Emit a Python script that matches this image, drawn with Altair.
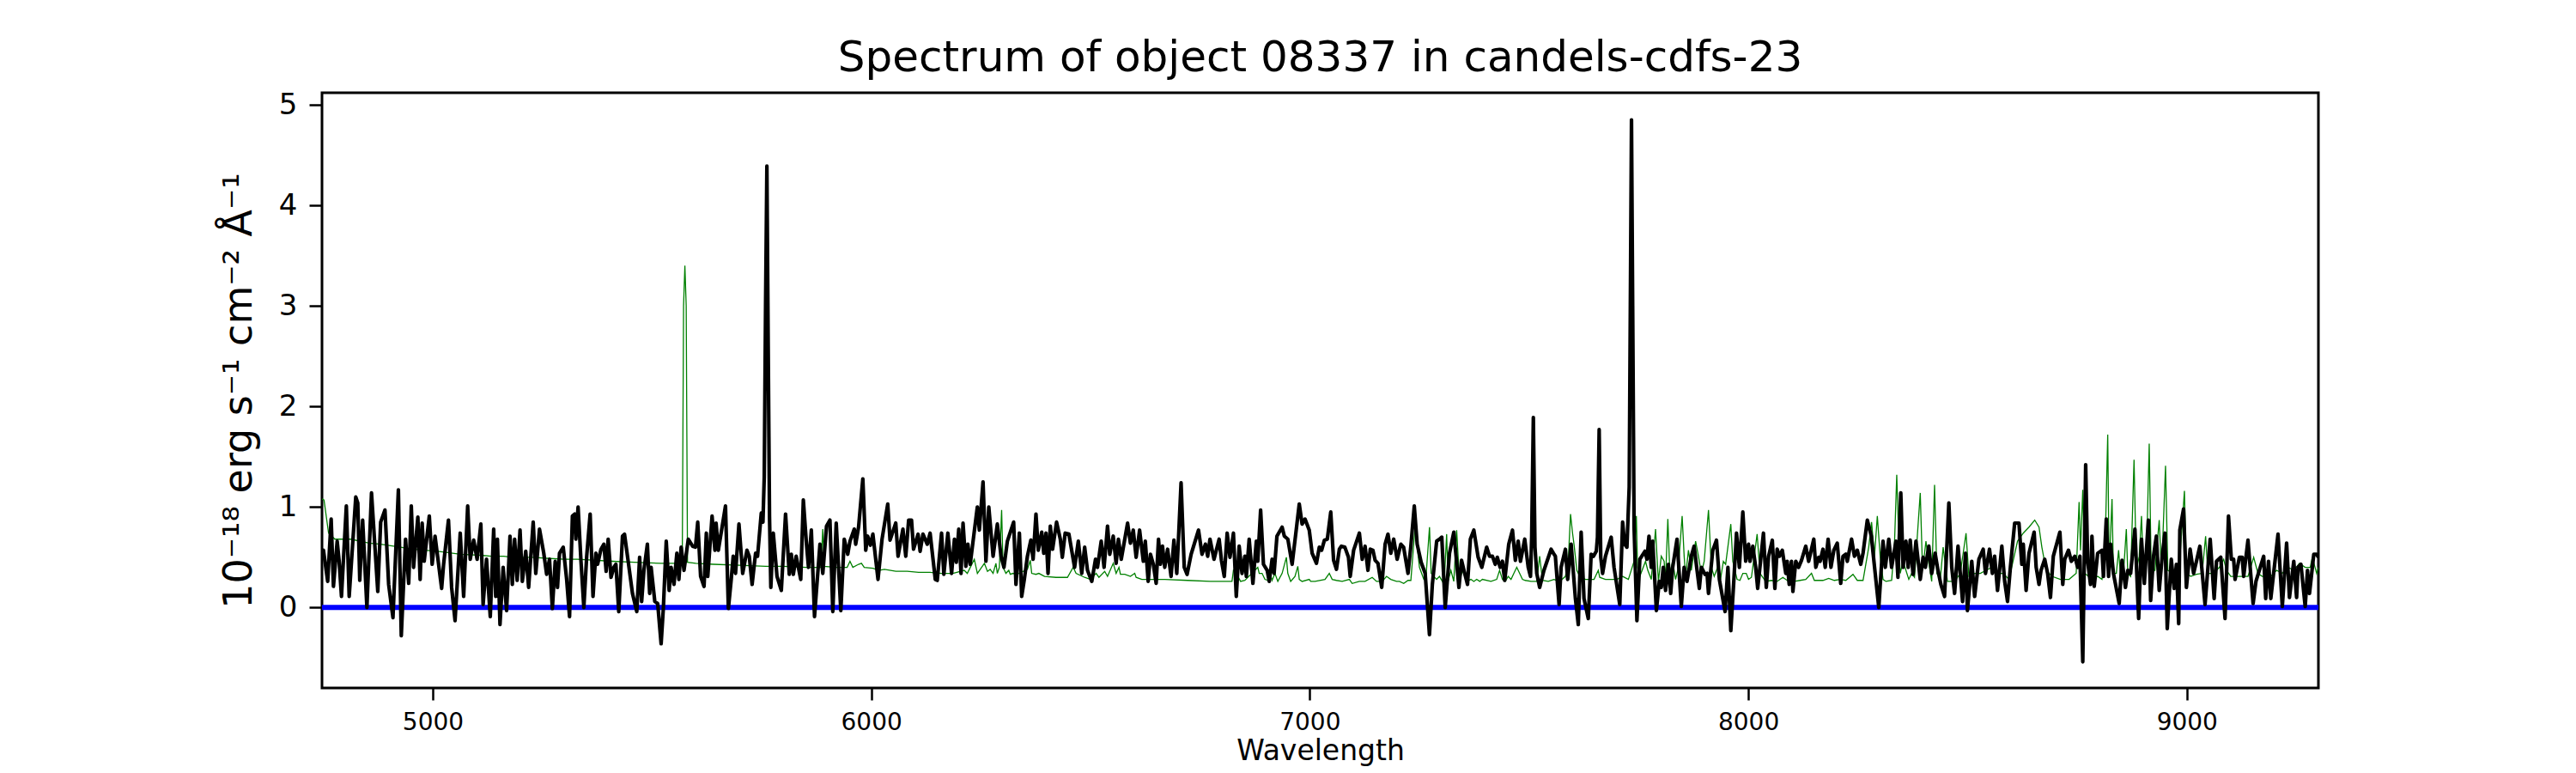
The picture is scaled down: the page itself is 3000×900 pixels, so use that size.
import altair as alt
import pandas as pd

# ---- black: observed spectrum (wavelength in Angstrom, flux in 1e-18 erg/s/cm2/A) ----
black_wave = [
    4748, 4750.8, 4760.5, 4768.4, 4773.6, 4782.1, 4786.6, 4791.9, 4803.0, 4809.5, 4824.5, 4829.1,
    4833.6, 4840.2, 4849.9, 4860.4, 4874.7, 4881.3, 4891.1, 4899.5, 4909.3, 4921.7, 4928.3, 4938.0,
    4945.2, 4951.1, 4956.3, 4966.1, 4971.3, 4975.9, 4980.5, 4992.2, 4998.7, 5005.3, 5020.3, 5024.8,
    5035.9, 5043.1, 5050.9, 5062.7, 5070.5, 5079.7, 5085.5, 5093.4, 5101.2, 5109.7, 5114.9, 5122.7,
    5131.2, 5139.0, 5143.6, 5147.5, 5153.4, 5160.6, 5168.4, 5176.2, 5181.5, 5186.7, 5192.6, 5199.1,
    5204.3, 5212.1, 5218.7, 5229.1, 5235.0, 5243.5,
    5253.2, 5259.8, 5266.3, 5272.8, 5279.3, 5284.6, 5289.1, 5297.6, 5305.4, 5312.0, 5318.5, 5323.7,
    5326.3, 5331.5, 5338.1, 5344.6, 5351.1, 5359.0, 5365.5, 5372.0, 5375.9, 5383.7, 5390.3, 5395.5,
    5400.1, 5406.6, 5413.1, 5417.7, 5424.2, 5432.7, 5437.3, 5445.7, 5455.5, 5465.3, 5471.8, 5476.4,
    5481.6, 5489.5, 5494.7, 5498.0, 5506.4, 5513.0, 5520.8, 5526.0, 5532.5, 5539.1, 5543.6, 5550.2,
    5556.7, 5561.3, 5566.5, 5573.0, 5582.8, 5592.6, 5599.1, 5604.3, 5610.9, 5618.7, 5623.9, 5627.2,
    5637.0, 5643.5, 5646.1, 5651.3, 5667.6, 5674.2, 5680.7, 5685.2, 5690.5, 5698.3, 5706.8, 5716.6,
    5721.8, 5728.3, 5736.2, 5740.7, 5749.2, 5753.0, 5756.0, 5759.0, 5762.0, 5765.0, 5768.0, 5771.0,
    5776.6, 5785.1, 5794.9, 5804.6, 5813.1, 5817.7, 5822.3, 5828.8, 5839.2, 5845.1, 5852.3, 5856.9,
    5863.4, 5870.6, 5883.0, 5889.5, 5898.0, 5905.8, 5912.3, 5920.1, 5930.6, 5938.4, 5946.3, 5951.5,
    5961.3, 5964.5, 5971.1, 5980.8, 5987.4, 5991.9, 5998.0, 6003.7, 6015.4, 6024.6, 6037.6, 6042.8,
    6055.9, 6061.1, 6072.2, 6078.7, 6085.3, 6091.8, 6096.4, 6106.8, 6111.4, 6117.9, 6127.7, 6134.2,
    6146.0, 6150.5, 6160.3, 6165.5, 6174.7, 6183.2, 6189.7, 6194.0, 6199.5, 6204.7, 6209.3, 6215.8,
    6220.3, 6225.6, 6241.9, 6246.5, 6254.9, 6261.5, 6268.0,
    6277.8, 6287.5, 6296.0, 6302.6, 6310.4, 6324.7, 6330.0, 6337.8, 6343.0, 6349.0, 6356.1, 6363.9,
    6369.1, 6375.6, 6380.9, 6388.7, 6393.3, 6398.5, 6403.1, 6408.3, 6413.5, 6422.6, 6431.1, 6435.7,
    6442.2, 6450.7, 6463.7, 6472.2, 6480.0, 6486.6, 6493.1, 6502.9, 6511.4, 6515.9, 6524.4, 6530.9,
    6538.8, 6543.9, 6551.8, 6558.4, 6563.6, 6570.1, 6584.5, 6591.0, 6597.5, 6604.0, 6611.9, 6620.4,
    6624.9, 6631.5, 6636.7, 6643.2, 6649.7, 6655.0, 6659.5, 6664.1, 6669.3, 6675.8, 6683.7, 6690.2,
    6696.7, 6700.0, 6706.5, 6713.7, 6720.2, 6729.4, 6746.3, 6754.2, 6762.0, 6767.2, 6772.4, 6781.6,
    6793.3, 6798.5, 6805.0, 6811.6, 6818.0, 6825.9, 6832.4, 6839.0, 6845.5, 6852.0, 6855.3, 6861.8,
    6870.3, 6878.1, 6881.4, 6887.9, 6894.4, 6902.9, 6907.5, 6914.0, 6918.6, 6925.1, 6936.9, 6942.0,
    6950.0, 6959.7, 6968.2, 6976.0, 6982.5, 6989.1, 6998.8, 7005.4, 7015.2, 7021.7, 7027.0, 7033.4,
    7040.0, 7047.8, 7054.3, 7060.8, 7067.4, 7072.0, 7080.0, 7088.2, 7092.2, 7100.0, 7113.1, 7119.6,
    7126.1, 7132.6, 7137.9, 7144.0, 7149.0, 7155.5, 7164.0, 7171.8, 7178.3, 7184.8, 7191.4, 7199.2,
    7207.7, 7214.0, 7224.0, 7230.5, 7238.3, 7244.9, 7254.0, 7263.1, 7272.9, 7279.5, 7289.3,
    7295.8, 7301.0, 7308.8, 7318.6, 7328.4, 7333.6, 7340.1, 7346.0, 7353.2, 7359.7, 7366.2, 7374.1,
    7383.9, 7392.3, 7403.4, 7409.9, 7416.5, 7423.0, 7427.6, 7434.0, 7439.3, 7444.5, 7453.7, 7462.2,
    7468.7, 7475.2, 7480.4, 7490.2, 7498.1, 7503.3, 7506.0, 7509.8, 7513.5, 7517.6, 7524.2, 7534.0,
    7550.3, 7555.5, 7560.0, 7568.5, 7573.1, 7582.9, 7588.1, 7596.0, 7605.7, 7612.3, 7618.8, 7625.3,
    7635.1, 7641.6, 7646.8, 7653.4, 7656.0, 7659.9, 7663.5, 7667.7, 7674.3, 7687.3, 7693.8, 7706.9,
    7713.4, 7718.0, 7723.2, 7728.4, 7731.7, 7733.6, 7736.3, 7739.5, 7746.0, 7752.6, 7764.3, 7768.9,
    7773.5, 7778.7, 7782.0, 7790.4,
    7796.9, 7801.5, 7806.1, 7811.3, 7817.8, 7823.0, 7827.6, 7837.4, 7847.2, 7853.7, 7860.2, 7870.0,
    7876.5, 7883.1, 7888.3, 7892.9, 7901.3, 7905.9, 7909.2, 7919.0, 7927.4, 7934.0, 7947.0, 7953.5,
    7960.1, 7966.6, 7973.1, 7979.6, 7987.5, 7994.0, 8000.5, 8003.8, 8010.3, 8016.8, 8021.4, 8027.9,
    8034.5, 8041.0, 8046.2, 8054.7, 8060.6, 8065.8, 8071.0, 8077.5, 8085.4, 8088.6, 8093.2, 8098.4,
    8101.7, 8108.2, 8114.7, 8121.3, 8131.0, 8137.6, 8149.3, 8153.9, 8160.4, 8163.7, 8170.2, 8175.4,
    8182.0, 8188.5, 8195.0, 8202.8, 8210.7, 8215.9, 8222.4, 8225.7, 8235.5, 8242.0, 8248.5, 8256.4,
    8261.6, 8271.4, 8280.5, 8297.5,
    8307.2, 8312.4, 8320.3, 8326.8, 8336.6, 8341.2, 8347.7, 8352.9, 8359.4, 8364.6, 8369.2, 8375.7,
    8382.3, 8392.1, 8398.6, 8403.8, 8411.6, 8418.2, 8426.0, 8432.5, 8439.1, 8447.5, 8457.3, 8463.9,
    8470.4, 8478.2, 8488.6, 8495.2, 8499.7, 8509.5, 8516.1, 8525.8, 8535.6, 8540.9, 8550.0, 8556.5,
    8561.7, 8568.3, 8578.1, 8584.6, 8591.1, 8597.6, 8607.4, 8617.2, 8623.7, 8627.0, 8633.5, 8640.0,
    8651.8, 8656.4, 8662.9, 8667.5, 8675.9, 8682.5, 8689.0, 8695.5, 8710.5, 8717.1, 8721.6, 8730.1,
    8736.6, 8744.5, 8751.0, 8756.2, 8762.7, 8769.3, 8773.8, 8780.3, 8783.6, 8788.8, 8796.7,
    8806.5, 8809.8, 8816.3, 8821.5, 8826.1, 8832.6, 8845.7, 8852.2, 8860.0, 8865.3, 8871.8, 8881.6,
    8890.1, 8896.6, 8903.1, 8912.2, 8917.5, 8924.0, 8930.5, 8937.0, 8943.6, 8950.1, 8955.3, 8964.5,
    8971.0, 8976.2, 8981.4, 8984.0, 8992.5, 8999.0, 9007.5, 9015.4, 9021.9, 9029.7, 9041.5, 9053.2,
    9062.3, 9067.6, 9077.4, 9087.1, 9095.0, 9101.5, 9106.7, 9110.0, 9119.8, 9126.3, 9129.6, 9139.4,
    9151.1, 9157.6, 9175.2, 9179.8, 9186.3, 9191.5, 9207.9, 9217.7, 9227.5, 9234.0, 9243.8, 9250.3,
    9253.6, 9260.1, 9269.9, 9275.1, 9279.7, 9289.5, 9296.0, 9300.0,
]
black_flux = [
    0.55, 0.57, 0.26, 0.88, 0.21, 0.66, 0.46, 0.11, 1.01, 0.11, 1.10, 1.04,
    0.27, 0.87, 0.00, 1.14, 0.16, 0.85, 0.97, 0.23, -0.10, 1.17, -0.28, 0.68,
    0.24, 1.01, 0.40, 0.90, 0.28, 0.84, 0.46, 0.91, 0.43, 0.71, 0.19, 0.43,
    0.87, 0.20, -0.13, 0.74, 0.11, 1.01, 0.48, 0.67, 0.48, 0.83, 0.03, 0.48,
    -0.09, 0.78, 0.11, 0.68, -0.17, 0.40, -0.03, 0.71, 0.23, 0.68, 0.27, 0.77,
    0.26, 0.56, 0.20, 0.85, 0.34, 0.78,
    0.54, 0.33, 0.48, -0.01, 0.46, 0.20, 0.54, 0.60, 0.28, -0.09, 0.91, 0.93,
    0.68, 1.00, 0.46, 0.00, 0.51, 0.93, 0.11, 0.54, 0.43, 0.58, 0.63, 0.36,
    0.68, 0.30, 0.40, 0.43, -0.04, 0.71, 0.73, 0.46, 0.14, -0.04, 0.50, 0.06,
    0.37, 0.63, 0.14, 0.40, 0.06, 0.04, -0.36, 0.00, 0.66, 0.17, 0.40, 0.23,
    0.54, 0.28, 0.60, 0.37, 0.68, 0.61, 0.60, 0.85, 0.31, 0.21, 0.74, 0.31,
    0.91, 0.57, 0.84, 0.57, 1.01, -0.01, 0.28, 0.51, 0.34, 0.83, 0.34, 0.57,
    0.51, 0.23, 0.54, 0.51, 0.94, 0.85, 1.30, 3.00, 4.39, 2.60, 0.90, 0.20,
    0.74, 0.31, 0.17, 0.93, 0.33, 0.53, 0.33, 0.51, 0.28, 1.07, 0.63, 0.40,
    0.77, -0.09, 0.63, 0.34, 0.81, 0.87, -0.04, 0.84, -0.03, 0.68, 0.53, 0.66,
    0.78, 0.63, 0.80, 1.28, 0.57, 0.71, 0.62, 0.73, 0.28, 0.68, 1.03, 0.67,
    0.84, 0.51, 0.78, 0.51, 0.87, 0.87, 0.58, 0.73, 0.56, 0.73, 0.63, 0.74,
    0.28, 0.27, 0.74, 0.33, 0.74, 0.34, 0.68, 0.45, 0.78, 0.34, 0.84, 0.41,
    0.63, 0.43, 1.00, 0.77, 1.25, 0.46, 1.00,
    0.51, 0.83, 0.51, 0.40, 0.66, 0.85, 0.23, 0.74, 0.11, 0.28, 0.51, 0.67,
    0.48, 0.93, 0.57, 0.75, 0.54, 0.74, 0.34, 0.81, 0.58, 0.85, 0.68, 0.50,
    0.74, 0.73, 0.40, 0.66, 0.34, 0.60, 0.37, 0.26, 0.48, 0.40, 0.66, 0.40,
    0.81, 0.53, 0.71, 0.44, 0.68, 0.48, 0.84, 0.64, 0.77, 0.50, 0.77, 0.46,
    0.66, 0.26, 0.53, 0.43, 0.24, 0.68, 0.43, 0.61, 0.40, 0.58, 0.31, 0.67,
    0.34, 0.63, 1.24, 0.40, 0.33, 0.53, 0.77, 0.53, 0.63, 0.51, 0.68, 0.48,
    0.68, 0.47, 0.31, 0.74, 0.50, 0.74, 0.11, 0.61, 0.34, 0.51, 0.31, 0.68,
    0.24, 0.66, 0.46, 0.97, 0.43, 0.37, 0.26, 0.48, 0.34, 0.71, 0.80, 0.71,
    0.68, 0.43, 0.74, 1.03, 0.83, 0.88, 0.77, 0.54, 0.44, 0.60, 0.57, 0.67,
    0.68, 0.95, 0.47, 0.38, 0.58, 0.61, 0.60, 0.50, 0.31, 0.57, 0.74, 0.48,
    0.61, 0.37, 0.58, 0.57, 0.47, 0.44, 0.20, 0.63, 0.73, 0.54, 0.68, 0.48,
    0.63, 0.60, 0.34, 0.61, 1.01, 0.63, 0.45, 0.34, -0.27, 0.23, 0.66,
    0.68, 0.70, 0.00, 0.54, 0.75, 0.51, 0.20, 0.47, 0.34, 0.23, 0.68, 0.77,
    0.50, 0.40, 0.60, 0.51, 0.51, 0.43, 0.50, 0.40, 0.46, 0.27, 0.63, 0.77,
    0.47, 0.66, 0.46, 0.68, 0.40, 0.31, 0.70, 1.89, 0.60, 0.34, 0.20, 0.37,
    0.58, 0.54, 0.51, 0.03, 0.40, 0.58, 0.28, 0.63, 0.09, -0.17, 0.75, 0.09,
    -0.11, 0.53, 0.51, 0.56, 0.70, 1.77, 0.50, 0.34, 0.51, 0.70, 0.40, 0.03,
    0.85, 0.63, 0.60, 1.20, 3.50, 4.85, 3.00, 0.80, -0.13, 0.48, 0.56, 0.48,
    0.71, 0.40, 0.66, -0.03,
    0.26, 0.20, 0.40, 0.17, 0.43, 0.14, 0.40, 0.68, 0.01, 0.40, 0.26, 0.51,
    0.61, 0.37, 0.19, 0.40, 0.33, 0.34, 0.14, 0.57, 0.67, 0.28, -0.04, 0.40,
    -0.23, 0.24, 0.74, 0.40, 0.95, 0.46, 0.63, 0.46, 0.61, 0.40, 0.19, 0.46,
    0.74, 0.20, 0.51, 0.67, 0.19, 0.58, 0.51, 0.57, 0.34, 0.46, 0.23, 0.46,
    0.16, 0.46, 0.40, 0.47, 0.61, 0.46, 0.68, 0.40, 0.50, 0.46, 0.58, 0.40,
    0.68, 0.40, 0.57, 0.64, 0.24, 0.51, 0.53, 0.46, 0.68, 0.51, 0.57, 0.43,
    0.54, 0.87, 0.71, 0.00,
    0.66, 0.40, 0.68, 0.40, 0.66, 0.30, 1.14, 0.40, 0.66, 0.40, 0.67, 0.33,
    0.66, 0.28, 0.50, 0.40, 0.61, 0.34, 0.54, 0.37, 0.23, 0.11, 1.04, 0.40,
    0.14, 0.61, 0.06, 0.54, -0.03, 0.46, 0.11, 0.48, 0.58, 0.34, 0.58, 0.34,
    0.51, 0.17, 0.61, 0.26, 0.06, 0.40, 0.84, 0.84, 0.43, 0.63, 0.17, 0.54,
    0.75, 0.40, 0.23, 0.37, 0.48, 0.34, 0.10, 0.51, 0.75, 0.23, 0.48, 0.57,
    0.46, 0.51, 0.40, 0.51, -0.54, 1.42, 0.46, 0.23, 0.71, 0.21, 0.54,
    0.57, 0.31, 0.88, 0.31, 0.63, 0.34, 0.04, 0.47, 0.20, 0.37, 0.34, 0.78,
    -0.11, 0.68, 0.24, 0.87, 0.07, 0.51, 0.71, 0.17, 0.50, 0.74, -0.21, 0.48,
    0.19, 0.43, -0.16, 0.77, 0.98, 0.20, 0.58, 0.34, 0.46, 0.61, 0.03, 0.68,
    0.09, 0.46, 0.50, -0.11, 0.91, 0.48, 0.48, 0.28, 0.50, 0.50, 0.31, 0.67,
    0.04, 0.26, 0.51, 0.09, 0.46, 0.09, 0.73, 0.01, 0.64, 0.10, 0.46, 0.10,
    0.40, 0.43, 0.01, 0.37, 0.14, 0.53, 0.53, 0.50,
]

# ---- green: model spectrum ----
green_wave = [
    4747.5, 4752.1, 4762.5, 4776.9, 4812.7, 4855.2, 4881.3, 4927.0, 4953.1, 5011.8, 5064.0, 5109.7,
    5134.0, 5161.9, 5181.5, 5227.2, 5260, 5300, 5330, 5410, 5460, 5520, 5560, 5569,
    5572, 5575, 5578, 5581, 5600, 5640, 5700, 5760,
    5800, 5853, 5885, 5889.5, 5893, 5920, 5945, 5951.5, 5958, 5971, 5977.6, 5984,
    6004, 6017, 6030, 6056, 6082, 6108, 6134, 6160, 6186, 6212, 6219, 6235,
    6242, 6258, 6265, 6271.2, 6277.8, 6284.3, 6287.5, 6292.1, 6297.3, 6300.6, 6307.1, 6313.6,
    6316.9, 6323.4, 6330.0, 6336.5, 6356.1, 6362.6, 6365.9, 6375.6, 6382.2, 6395.2, 6421.3, 6447.4,
    6460.5, 6467.0, 6486.6, 6499.6, 6512.7, 6519.2, 6532.3, 6538.8, 6551.8, 6558.4, 6564.9, 6568.2,
    6578.0, 6591.0, 6600.8, 6604.0, 6617.1, 6636.7, 6669.3, 6721.5, 6773.5, 6822.6, 6825.9, 6832.4,
    6842.2, 6852.0, 6881.4, 6884.7, 6891.2, 6897.7, 6904.2, 6907.5, 6914.0, 6920.5, 6927.1, 6936.9,
    6946.6, 6949.9, 6956.4, 6966.2, 6972.7, 6976.0, 6982.5, 6998.8, 7002.1, 7012.0, 7034.7, 7044.5,
    7051.1, 7060.8, 7073.9, 7090.2, 7096.7, 7113.1, 7126.1, 7142.4, 7152.2, 7165.3, 7175.0, 7184.8,
    7197.9, 7204.4, 7214.2, 7224.0, 7230.5, 7240.0, 7250.1, 7260.0, 7264.6, 7273.0, 7276.8, 7282.7,
    7289.2, 7295.8, 7302.3, 7307.5, 7312.1, 7315.3, 7321.8, 7328.4, 7334.9, 7341.4, 7348.0, 7357.8,
    7367.5, 7374.1, 7380.6, 7387.6, 7393.6, 7413.2, 7426.2, 7432.8, 7439.3, 7445.8, 7452.4, 7458.9,
    7465.4, 7472.0, 7478.5, 7485.0, 7491.5, 7504.6, 7517.6, 7524.2, 7530.7, 7543.7, 7556.8, 7569.8,
    7582.9, 7589.4, 7594.6, 7599.2, 7602.5, 7609.0, 7615.5, 7628.6, 7648.2, 7657.9, 7661.2, 7674.3,
    7687.3, 7700.4, 7713.4, 7726.5, 7739.5, 7744.7, 7747.3, 7752.6, 7765.6, 7770.8, 7778.7, 7788.5,
    7791.7, 7795.0, 7801.5, 7808.0, 7811.3, 7816.5, 7821.1, 7827.6, 7834.1, 7840.6, 7849.1, 7853.7,
    7857.0, 7863.5, 7870.0, 7879.8, 7886.3, 7892.9, 7899.4, 7909.2, 7915.7, 7922.2, 7930.1, 7936.6,
    7943.1, 7948.3, 7960.1, 7964.6, 7974.4, 7980.9, 7987.5, 7995.3, 8000.5, 8007.1, 8020.1, 8026.7,
    8039.7, 8052.7, 8065.8, 8072.3, 8078.8, 8091.9, 8104.9, 8118.0, 8131.0, 8144.1, 8150.6, 8170.2,
    8183.3, 8196.3, 8209.4, 8222.4, 8238.7, 8248.5, 8261.6, 8274.6, 8281.1, 8287.7, 8294.2, 8300.7,
    8307.2, 8313.8, 8326.8, 8333.3, 8338.5, 8343.1, 8346.4, 8352.9, 8359.4, 8366.0, 8372.5, 8379.0,
    8392.1, 8397.3, 8405.1, 8410.3, 8418.2, 8424.7, 8429.9, 8437.7, 8444.3, 8454.1, 8470.4, 8483.4,
    8496.5, 8503.0, 8516.1, 8529.1, 8542.2, 8555.2, 8568.3, 8581.3, 8594.4, 8613.9, 8627.0, 8640.0,
    8653.1, 8662.9, 8669.4, 8679.2, 8692.3, 8711.8, 8731.4, 8747.7, 8754.3, 8757.5, 8762.7, 8767.3,
    8783.6, 8796.7, 8806.5, 8813.1, 8819.6, 8822.8, 8829.4, 8832.6, 8839.2, 8844.4, 8848.9, 8855.5,
    8862.0, 8865.3, 8871.8, 8879.6, 8884.8, 8891.4, 8896.6, 8901.2, 8907.7, 8914.2, 8918.8, 8927.3,
    8937.0, 8942.3, 8951.4, 8956.6, 8969.7, 8982.7, 8994.5, 8999.0, 9008.8, 9021.9, 9034.9, 9042.8,
    9048.0, 9061.0, 9074.1, 9083.9, 9090.4, 9100.2, 9113.2, 9126.3, 9139.4, 9152.4, 9162.2, 9172.0,
    9191.6, 9204.6, 9217.7, 9230.7, 9243.8, 9256.8, 9269.9, 9281.3, 9286.2, 9296.0, 9300.0,
]
green_flux = [
    1.08, 1.07, 0.74, 0.68, 0.68, 0.64, 0.63, 0.60, 0.58, 0.56, 0.53, 0.52,
    0.51, 0.51, 0.50, 0.50, 0.49, 0.48, 0.48, 0.46, 0.45, 0.44, 0.44, 0.44,
    3.00, 3.40, 3.00, 0.45, 0.44, 0.43, 0.42, 0.41,
    0.41, 0.40, 0.40, 0.78, 0.41, 0.40, 0.40, 0.46, 0.40, 0.43, 0.44, 0.40,
    0.39, 0.37, 0.38, 0.36, 0.36, 0.35, 0.35, 0.34, 0.34, 0.37, 0.34, 0.48,
    0.34, 0.44, 0.36, 0.38, 0.34, 0.44, 0.34, 0.40, 0.97, 0.40, 0.34, 0.37,
    0.33, 0.34, 0.33, 0.34, 0.38, 0.47, 0.34, 0.33, 0.34, 0.31, 0.30, 0.30,
    0.40, 0.34, 0.30, 0.28, 0.34, 0.30, 0.36, 0.31, 0.44, 0.34, 0.40, 0.33,
    0.33, 0.31, 0.34, 0.30, 0.28, 0.28, 0.28, 0.27, 0.26, 0.26, 0.37, 0.34,
    0.26, 0.27, 0.40, 0.34, 0.34, 0.28, 0.27, 0.37, 0.27, 0.34, 0.26, 0.34,
    0.50, 0.34, 0.26, 0.31, 0.41, 0.28, 0.26, 0.28, 0.26, 0.26, 0.28, 0.34,
    0.28, 0.27, 0.26, 0.28, 0.24, 0.26, 0.26, 0.30, 0.26, 0.26, 0.31, 0.28,
    0.26, 0.26, 0.24, 0.27, 0.27, 0.80, 0.40, 0.28, 0.28, 0.80, 0.34, 0.31,
    0.28, 0.31, 0.26, 0.34, 0.73, 0.26, 0.37, 0.26, 0.77, 0.26, 0.37, 0.26,
    0.28, 0.26, 0.28, 0.26, 0.28, 0.26, 0.28, 0.37, 0.28, 0.26, 0.31, 0.28,
    0.34, 0.40, 0.34, 0.28, 0.27, 0.26, 0.26, 0.51, 0.27, 0.26, 0.28, 0.26,
    0.31, 0.46, 0.93, 0.74, 0.63, 0.37, 0.31, 0.28, 0.28, 0.37, 0.30, 0.28,
    0.28, 0.28, 0.31, 0.28, 0.46, 0.91, 0.40, 0.31, 0.46, 0.37, 0.28, 0.78,
    0.51, 0.26, 0.51, 0.46, 0.28, 0.88, 0.34, 0.46, 0.28, 0.40, 0.91, 0.51,
    0.31, 0.57, 0.37, 0.66, 0.51, 0.34, 0.46, 0.97, 0.40, 0.31, 0.40, 0.28,
    0.46, 0.43, 0.83, 0.46, 0.28, 0.27, 0.34, 0.34, 0.28, 0.30, 0.73, 0.34,
    0.26, 0.27, 0.26, 0.28, 0.30, 0.26, 0.26, 0.27, 0.28, 0.34, 0.27, 0.27,
    0.29, 0.27, 0.28, 0.27, 0.33, 0.27, 0.27, 0.60, 0.85, 0.51, 0.91, 0.51,
    0.28, 0.26, 0.27, 0.63, 1.32, 0.66, 0.34, 0.46, 0.37, 0.28, 0.34, 0.30,
    1.14, 0.37, 0.66, 0.48, 0.26, 1.22, 0.34, 0.28, 0.60, 0.26, 0.26, 0.34,
    0.74, 0.31, 0.34, 0.34, 0.37, 0.40, 0.34, 0.34, 0.28, 0.66, 0.74, 0.80,
    0.87, 0.80, 0.60, 0.37, 0.31, 0.28, 0.28, 0.34, 1.05, 0.57, 1.17, 0.34,
    0.28, 0.31, 0.28, 0.51, 1.72, 0.37, 1.08, 0.34, 0.34, 0.57, 0.31, 0.34,
    0.78, 0.34, 0.31, 1.47, 0.37, 0.51, 0.91, 0.34, 0.46, 1.63, 0.34, 0.37,
    0.87, 0.34, 1.41, 0.37, 0.34, 0.40, 1.16, 0.34, 0.31, 0.33, 0.34, 0.71,
    0.34, 0.34, 0.40, 0.48, 0.37, 0.31, 0.31, 0.31, 0.31, 0.50, 0.34, 0.31,
    0.31, 0.37, 0.34, 0.40, 0.37, 0.44, 0.40, 0.40, 0.50, 0.34, 0.40,
]

zero_level = [0.0]

x_ticks = [5000, 6000, 7000, 8000, 9000]
y_ticks = [0, 1, 2, 3, 4, 5]

black_df = pd.DataFrame({"wave": black_wave, "flux": black_flux})
green_df = pd.DataFrame({"wave": green_wave, "flux": green_flux})
zero_df = pd.DataFrame({"flux": zero_level})

x_enc = alt.X(
    "wave:Q",
    scale=alt.Scale(domain=[4747.5, 9300], nice=False, zero=False),
    axis=alt.Axis(
        values=x_ticks, format="d", title="Wavelength",
        labelFontSize=28, titleFontSize=33, tickSize=14, labelPadding=12,
        titlePadding=3,
    ),
)
y_enc = alt.Y(
    "flux:Q",
    scale=alt.Scale(domain=[-0.80, 5.12], nice=False, zero=False),
    axis=alt.Axis(
        values=y_ticks, format="d", title="10⁻¹⁸ erg s⁻¹ cm⁻² Å⁻¹",
        labelFontSize=34, titleFontSize=46, tickSize=15, labelPadding=14,
        titlePadding=22,
    ),
)

green = alt.Chart(green_df).mark_line(
    color="#008000", strokeWidth=1.3, clip=True
).encode(x=x_enc, y=y_enc, order="wave:Q")

zero = alt.Chart(zero_df).mark_rule(
    color="#0000ff", strokeWidth=6, clip=True
).encode(y=y_enc)

black = alt.Chart(black_df).mark_line(
    color="#000000", strokeWidth=4.2, strokeJoin="round", clip=True
).encode(x=x_enc, y=y_enc, order="wave:Q")

chart = (
    alt.layer(green, zero, black)
    .properties(
        width=2325,
        height=693,
        title=alt.TitleParams(
            "Spectrum of object 08337 in candels-cdfs-23",
            fontSize=50, font="DejaVu Sans", fontWeight="normal",
            color="black", anchor="middle", offset=12,
        ),
        autosize=alt.AutoSizeParams(type="none"),
        padding={"left": 367, "top": 100, "right": 292, "bottom": 99},
    )
    .configure_view(stroke="black", strokeWidth=3)
    .configure_axis(
        domain=False, grid=False, tickColor="black", tickWidth=2.5,
        labelColor="black", titleColor="black",
        labelFont="DejaVu Sans", titleFont="DejaVu Sans",
        titleFontWeight="normal",
    )
)

chart.save("out.html", embed_options={"renderer": "svg", "actions": False})
